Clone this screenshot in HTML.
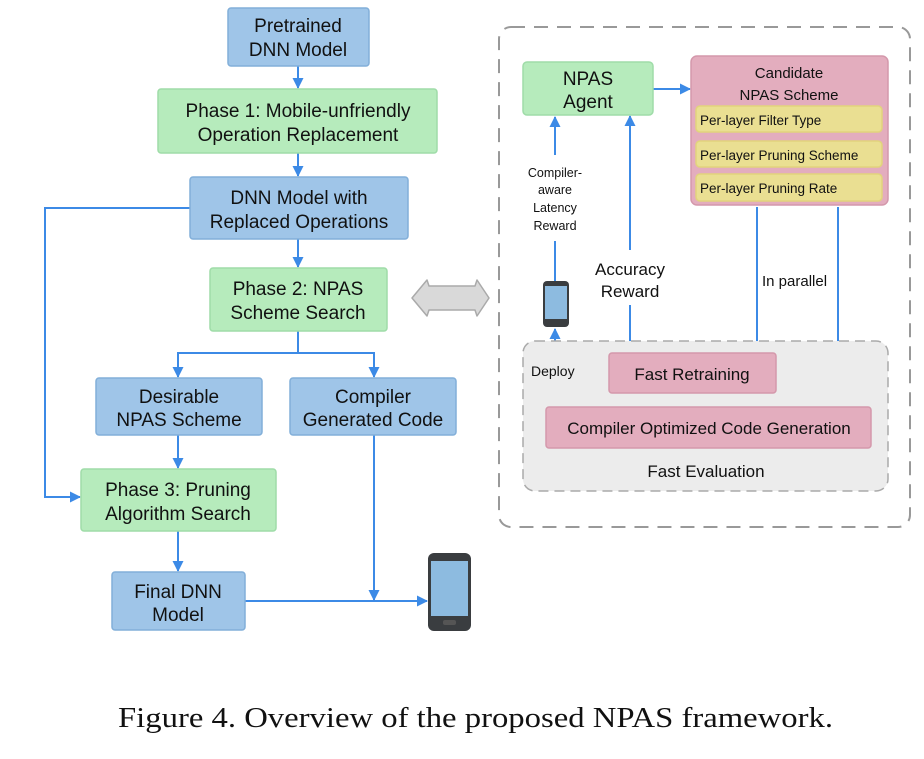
<!DOCTYPE html>
<html><head><style>
body{margin:0;background:#fff;width:924px;height:754px;overflow:hidden}
svg text{font-family:"Liberation Sans",sans-serif;fill:#111}
svg text.cap{font-family:"Liberation Serif",serif}
</style></head><body>
<svg width="924" height="754" viewBox="0 0 924 754">
<defs>
<marker id="a" markerWidth="11" markerHeight="11" refX="10" refY="5.5" orient="auto" markerUnits="userSpaceOnUse"><path d="M0,0 L11,5.5 L0,11 z" fill="#3c8ae6"/></marker>
</defs>
<g stroke="#3c8ae6" stroke-width="2" fill="none">
<path d="M298 66 V88" marker-end="url(#a)"/>
<path d="M298 153 V176" marker-end="url(#a)"/>
<path d="M298 239 V267" marker-end="url(#a)"/>
<path d="M298 331 V353 H178 V377" marker-end="url(#a)"/>
<path d="M298 353 H374 V377" marker-end="url(#a)"/>
<path d="M178 435 V468" marker-end="url(#a)"/>
<path d="M190 208 H45 V497 H80" marker-end="url(#a)"/>
<path d="M178 531 V571" marker-end="url(#a)"/>
<path d="M245 601 H427" marker-end="url(#a)"/>
<path d="M374 435 V600" marker-end="url(#a)"/>
<path d="M653 89 H690" marker-end="url(#a)"/>
<path d="M555 155 V117" marker-end="url(#a)"/>
<path d="M555 241 V281"/>
<path d="M555 407 V329" marker-end="url(#a)"/>
<path d="M630 250 V116" marker-end="url(#a)"/>
<path d="M630 305 V353"/>
<path d="M757 207 V352" marker-end="url(#a)"/>
<path d="M838 207 V406" marker-end="url(#a)"/>
</g>
<rect x="499" y="27" width="411" height="500" rx="12" fill="none" stroke="#999" stroke-width="2" stroke-dasharray="14,9"/>
<rect x="523" y="341" width="365" height="150" rx="12" fill="#ececec" stroke="#aaa" stroke-width="1.5" stroke-dasharray="10,6"/>
<g stroke-width="1.5">
<rect x="228" y="8" width="141" height="58" rx="3" fill="#9fc5e8" stroke="#82afd9"/>
<rect x="158" y="89" width="279" height="64" rx="3" fill="#b6ebbc" stroke="#9fdca8"/>
<rect x="190" y="177" width="218" height="62" rx="3" fill="#9fc5e8" stroke="#82afd9"/>
<rect x="210" y="268" width="177" height="63" rx="3" fill="#b6ebbc" stroke="#9fdca8"/>
<rect x="96" y="378" width="166" height="57" rx="3" fill="#9fc5e8" stroke="#82afd9"/>
<rect x="290" y="378" width="166" height="57" rx="3" fill="#9fc5e8" stroke="#82afd9"/>
<rect x="81" y="469" width="195" height="62" rx="3" fill="#b6ebbc" stroke="#9fdca8"/>
<rect x="112" y="572" width="133" height="58" rx="3" fill="#9fc5e8" stroke="#82afd9"/>
<rect x="523" y="62" width="130" height="53" rx="4" fill="#b6ebbc" stroke="#9fdca8"/>
<rect x="691" y="56" width="197" height="149" rx="6" fill="#e3adbe" stroke="#d498ab"/>
<rect x="696" y="106" width="186" height="26" rx="4" fill="#eadf92" stroke="#e2d47c"/>
<rect x="696" y="141" width="186" height="26" rx="4" fill="#eadf92" stroke="#e2d47c"/>
<rect x="696" y="174" width="186" height="27" rx="4" fill="#eadf92" stroke="#e2d47c"/>
<rect x="609" y="353" width="167" height="40" rx="3" fill="#e3adbe" stroke="#d498ab"/>
<rect x="546" y="407" width="325" height="41" rx="3" fill="#e3adbe" stroke="#d498ab"/>
</g>
<g font-size="19" text-anchor="middle">
<text x="298" y="32">Pretrained</text><text x="298" y="56">DNN Model</text>
<text x="298" y="117">Phase 1: Mobile-unfriendly</text><text x="298" y="141">Operation Replacement</text>
<text x="299" y="204">DNN Model with</text><text x="299" y="228">Replaced Operations</text>
<text x="298" y="295">Phase 2: NPAS</text><text x="298" y="319">Scheme Search</text>
<text x="179" y="403">Desirable</text><text x="179" y="426">NPAS Scheme</text>
<text x="373" y="403">Compiler</text><text x="373" y="426">Generated Code</text>
<text x="178" y="496">Phase 3: Pruning</text><text x="178" y="520">Algorithm Search</text>
<text x="178" y="598">Final DNN</text><text x="178" y="621">Model</text>
<text x="588" y="85">NPAS</text><text x="588" y="108">Agent</text>
<text x="630" y="275" font-size="17">Accuracy</text><text x="630" y="297" font-size="17">Reward</text>
<text x="692" y="380" font-size="17">Fast Retraining</text>
<text x="709" y="434" font-size="17">Compiler Optimized Code Generation</text>
<text x="706" y="477" font-size="17">Fast Evaluation</text>
</g>
<g font-size="15" text-anchor="middle">
<text x="789" y="78">Candidate</text><text x="789" y="100">NPAS Scheme</text>
</g>
<g font-size="13.5">
<text x="700" y="125">Per-layer Filter Type</text>
<text x="700" y="160">Per-layer Pruning Scheme</text>
<text x="700" y="193">Per-layer Pruning Rate</text>
<text x="762" y="286" font-size="15">In parallel</text>
<text x="531" y="376" font-size="14">Deploy</text>
</g>
<g font-size="12.5" text-anchor="middle">
<text x="555" y="177">Compiler-</text><text x="555" y="194">aware</text><text x="555" y="212">Latency</text><text x="555" y="230">Reward</text>
</g>
<path d="M412 298 L427 280 L429 286 L475 286 L477 280 L489 298 L477 316 L475 310 L429 310 L427 316 Z" fill="#d9d9d9" stroke="#aaa" stroke-width="1.5" stroke-linejoin="round"/>
<g>
<rect x="428" y="553" width="43" height="78" rx="6" fill="#3a3d40"/>
<rect x="431" y="561" width="37" height="55" fill="#8dbbe0"/>
<rect x="443" y="620" width="13" height="5" rx="2" fill="#555"/>
<rect x="543" y="281" width="26" height="46" rx="4" fill="#3a3d40"/>
<rect x="545" y="286" width="22" height="33" fill="#8dbbe0"/>
</g>
<text class="cap" x="118" y="727" font-size="29" textLength="715" lengthAdjust="spacingAndGlyphs">Figure 4. Overview of the proposed NPAS framework.</text>
</svg>
</body></html>
